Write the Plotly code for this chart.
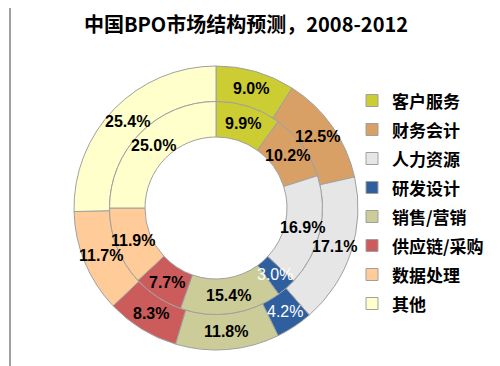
import math
import plotly.graph_objects as go

categories = ["客户服务", "财务会计", "人力资源", "研发设计", "销售/营销", "供应链/采购", "数据处理", "其他"]
values_2012 = [9.0, 12.5, 17.1, 4.2, 11.8, 8.3, 11.7, 25.4]   # outer ring
values_2008 = [9.9, 10.2, 16.9, 3.0, 15.4, 7.7, 11.9, 25.0]   # inner ring
colors = ["#CCCC33", "#D9A066", "#E6E6E6", "#2F5F9F", "#CCCC99", "#CC5C5C", "#FFCC99", "#FFFFCC"]
text_colors = ["black", "black", "black", "white", "black", "black", "black", "black"]

W, H = 500, 366
cx, cy = 208, 200
R_out = 142
R_mid = 0.75 * R_out
R_hole = 0.5 * R_out

def dom(r):
    yc = H - cy
    return dict(x=[(cx - r) / W, (cx + r) / W], y=[(yc - r) / H, (yc + r) / H])

legend_labels = ['<span style="font-size:17px">%s</span>' % c for c in categories]

fig = go.Figure()
for vals, r_o, r_i, show in [(values_2012, R_out, R_mid, True), (values_2008, R_mid, R_hole, False)]:
    fig.add_trace(go.Pie(
        labels=legend_labels, values=vals, sort=False, direction="clockwise", rotation=0,
        hole=r_i / r_o, domain=dom(r_o),
        marker=dict(colors=colors, line=dict(color="#A0A0A0", width=1)),
        textinfo="none", hoverinfo="label+value", showlegend=show,
    ))

# data labels at the middle of each ring segment (mid-angle, mid-radius), derived from the values
annotations = []
for vals, r_o, r_i in [(values_2012, R_out, R_mid), (values_2008, R_mid, R_hole)]:
    total = sum(vals)
    r_lab = (r_o + r_i) / 2
    cum = 0.0
    for v, tc in zip(vals, text_colors):
        mid = (cum + v / 2) / total * 2 * math.pi
        cum += v
        px = cx + r_lab * math.sin(mid)
        py = cy - r_lab * math.cos(mid)
        annotations.append(dict(
            x=px / W, y=1 - py / H, xref="paper", yref="paper",
            text=("<b>%.1f%%</b>" % v) if tc == "black" else ("%.1f%%" % v),
            showarrow=False, xanchor="center", yanchor="middle",
            font=dict(family="Liberation Sans", size=16, color=tc),
        ))

fig.update_layout(
    width=W, height=H,
    margin=dict(l=0, r=0, t=0, b=0),
    paper_bgcolor="white",
    title=dict(text="<b>中国BPO市场结构预测，2008-2012</b>", x=238 / W, xanchor="center",
               y=1 - 17 / H, yanchor="middle",
               font=dict(family="Noto Sans CJK SC", size=20, color="black")),
    legend=dict(x=344 / W, y=1 - 73 / H, xanchor="left", yanchor="top",
                font=dict(family="Noto Sans CJK SC", size=20, color="black", weight="bold"),
                bgcolor="rgba(0,0,0,0)", itemwidth=30),
    annotations=annotations,
    shapes=[dict(type="line", xref="paper", yref="paper", x0=2 / W, x1=2 / W, y0=0, y1=1,
                 line=dict(color="#A0A0A0", width=2))],
)

fig.write_html("out.html")
